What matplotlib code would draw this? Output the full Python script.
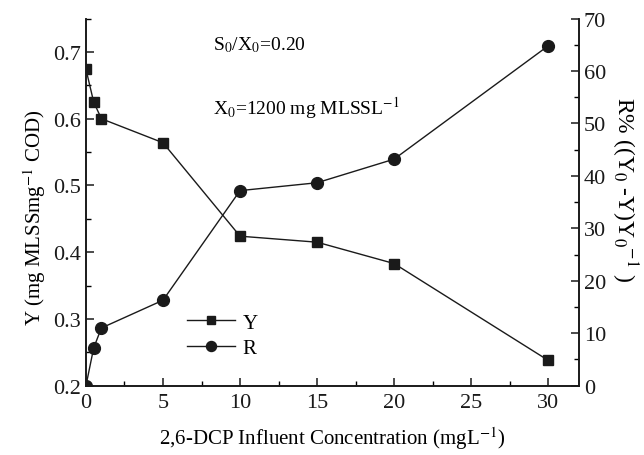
import matplotlib
matplotlib.use('Agg')
import matplotlib.pyplot as plt
from matplotlib.ticker import MultipleLocator

plt.rcParams['font.family'] = ['Liberation Serif', 'DejaVu Serif']
plt.rcParams['mathtext.fontset'] = 'stix'

# значения
conc = [0, 0.5, 1, 5, 10, 15, 20, 30]
y_vals = [0.674, 0.625, 0.600, 0.564, 0.424, 0.415, 0.383, 0.238]
r_vals = [0, 7.2, 11.0, 16.3, 37.2, 38.7, 43.2, 64.8]

fig = plt.figure(figsize=(6.44, 4.56), dpi=100)
ax = fig.add_axes([0.1335, 0.152, 0.7655, 0.805])
ax2 = ax.twinx()

l1, = ax.plot(conc, y_vals, color='#1a1a1a', lw=1.0, marker='s', ms=7.5, label='Y')
l2, = ax2.plot(conc, r_vals, color='#1a1a1a', lw=1.0, marker='o', ms=8.5, label='R')

ax.set_xlim(0, 32)
ax.set_ylim(0.2, 0.75)
ax2.set_ylim(0, 70)

ax.xaxis.set_major_locator(MultipleLocator(5))
ax.xaxis.set_minor_locator(MultipleLocator(2.5))
ax.yaxis.set_major_locator(MultipleLocator(0.1))
ax.yaxis.set_minor_locator(MultipleLocator(0.05))
ax2.yaxis.set_major_locator(MultipleLocator(10))
ax2.yaxis.set_minor_locator(MultipleLocator(5))

for a in (ax, ax2):
    a.spines['top'].set_visible(False)
    for s in a.spines.values():
        s.set_linewidth(1.2)
        s.set_color('#1a1a1a')
    a.tick_params(which='major', direction='in', length=6, width=1.1, labelsize=16, colors='#1a1a1a')
    a.tick_params(which='minor', direction='in', length=3.5, width=1.0)
ax.tick_params(axis='y', right=False)
ax.tick_params(axis='x', top=False, which='both')
ax.tick_params(axis='x', pad=5)

ax.set_xlabel('2,6-DCP Influent Concentration (mgL$^{-1}$)', fontsize=15, labelpad=9)
ax.set_ylabel('Y (mg MLSSmg$^{-1}$ COD)', fontsize=15, labelpad=4)
ax.yaxis.label.set_y(0.46)
ax2.set_ylabel('R% ((Y$_0$ -Y)Y$_0$$^{-1}$ )', fontsize=17, rotation=-90, labelpad=24)
ax2.yaxis.label.set_y(0.536)

ax.text(0.258, 0.93, 'S$_0$/X$_0$=0.20', transform=ax.transAxes, fontsize=14, va='center')
ax.text(0.258, 0.76, 'X$_0$=1200 mg MLSSL$^{-1}$', transform=ax.transAxes, fontsize=14, va='center')

ax.legend([l1, l2], ['Y', 'R'], loc='center left', bbox_to_anchor=(0.205, 0.136),
          frameon=False, fontsize=15, handlelength=2.3, handletextpad=0.35,
          labelspacing=0.3, markerscale=0.85, borderpad=0, borderaxespad=0)

plt.savefig('out.png', dpi=100)
